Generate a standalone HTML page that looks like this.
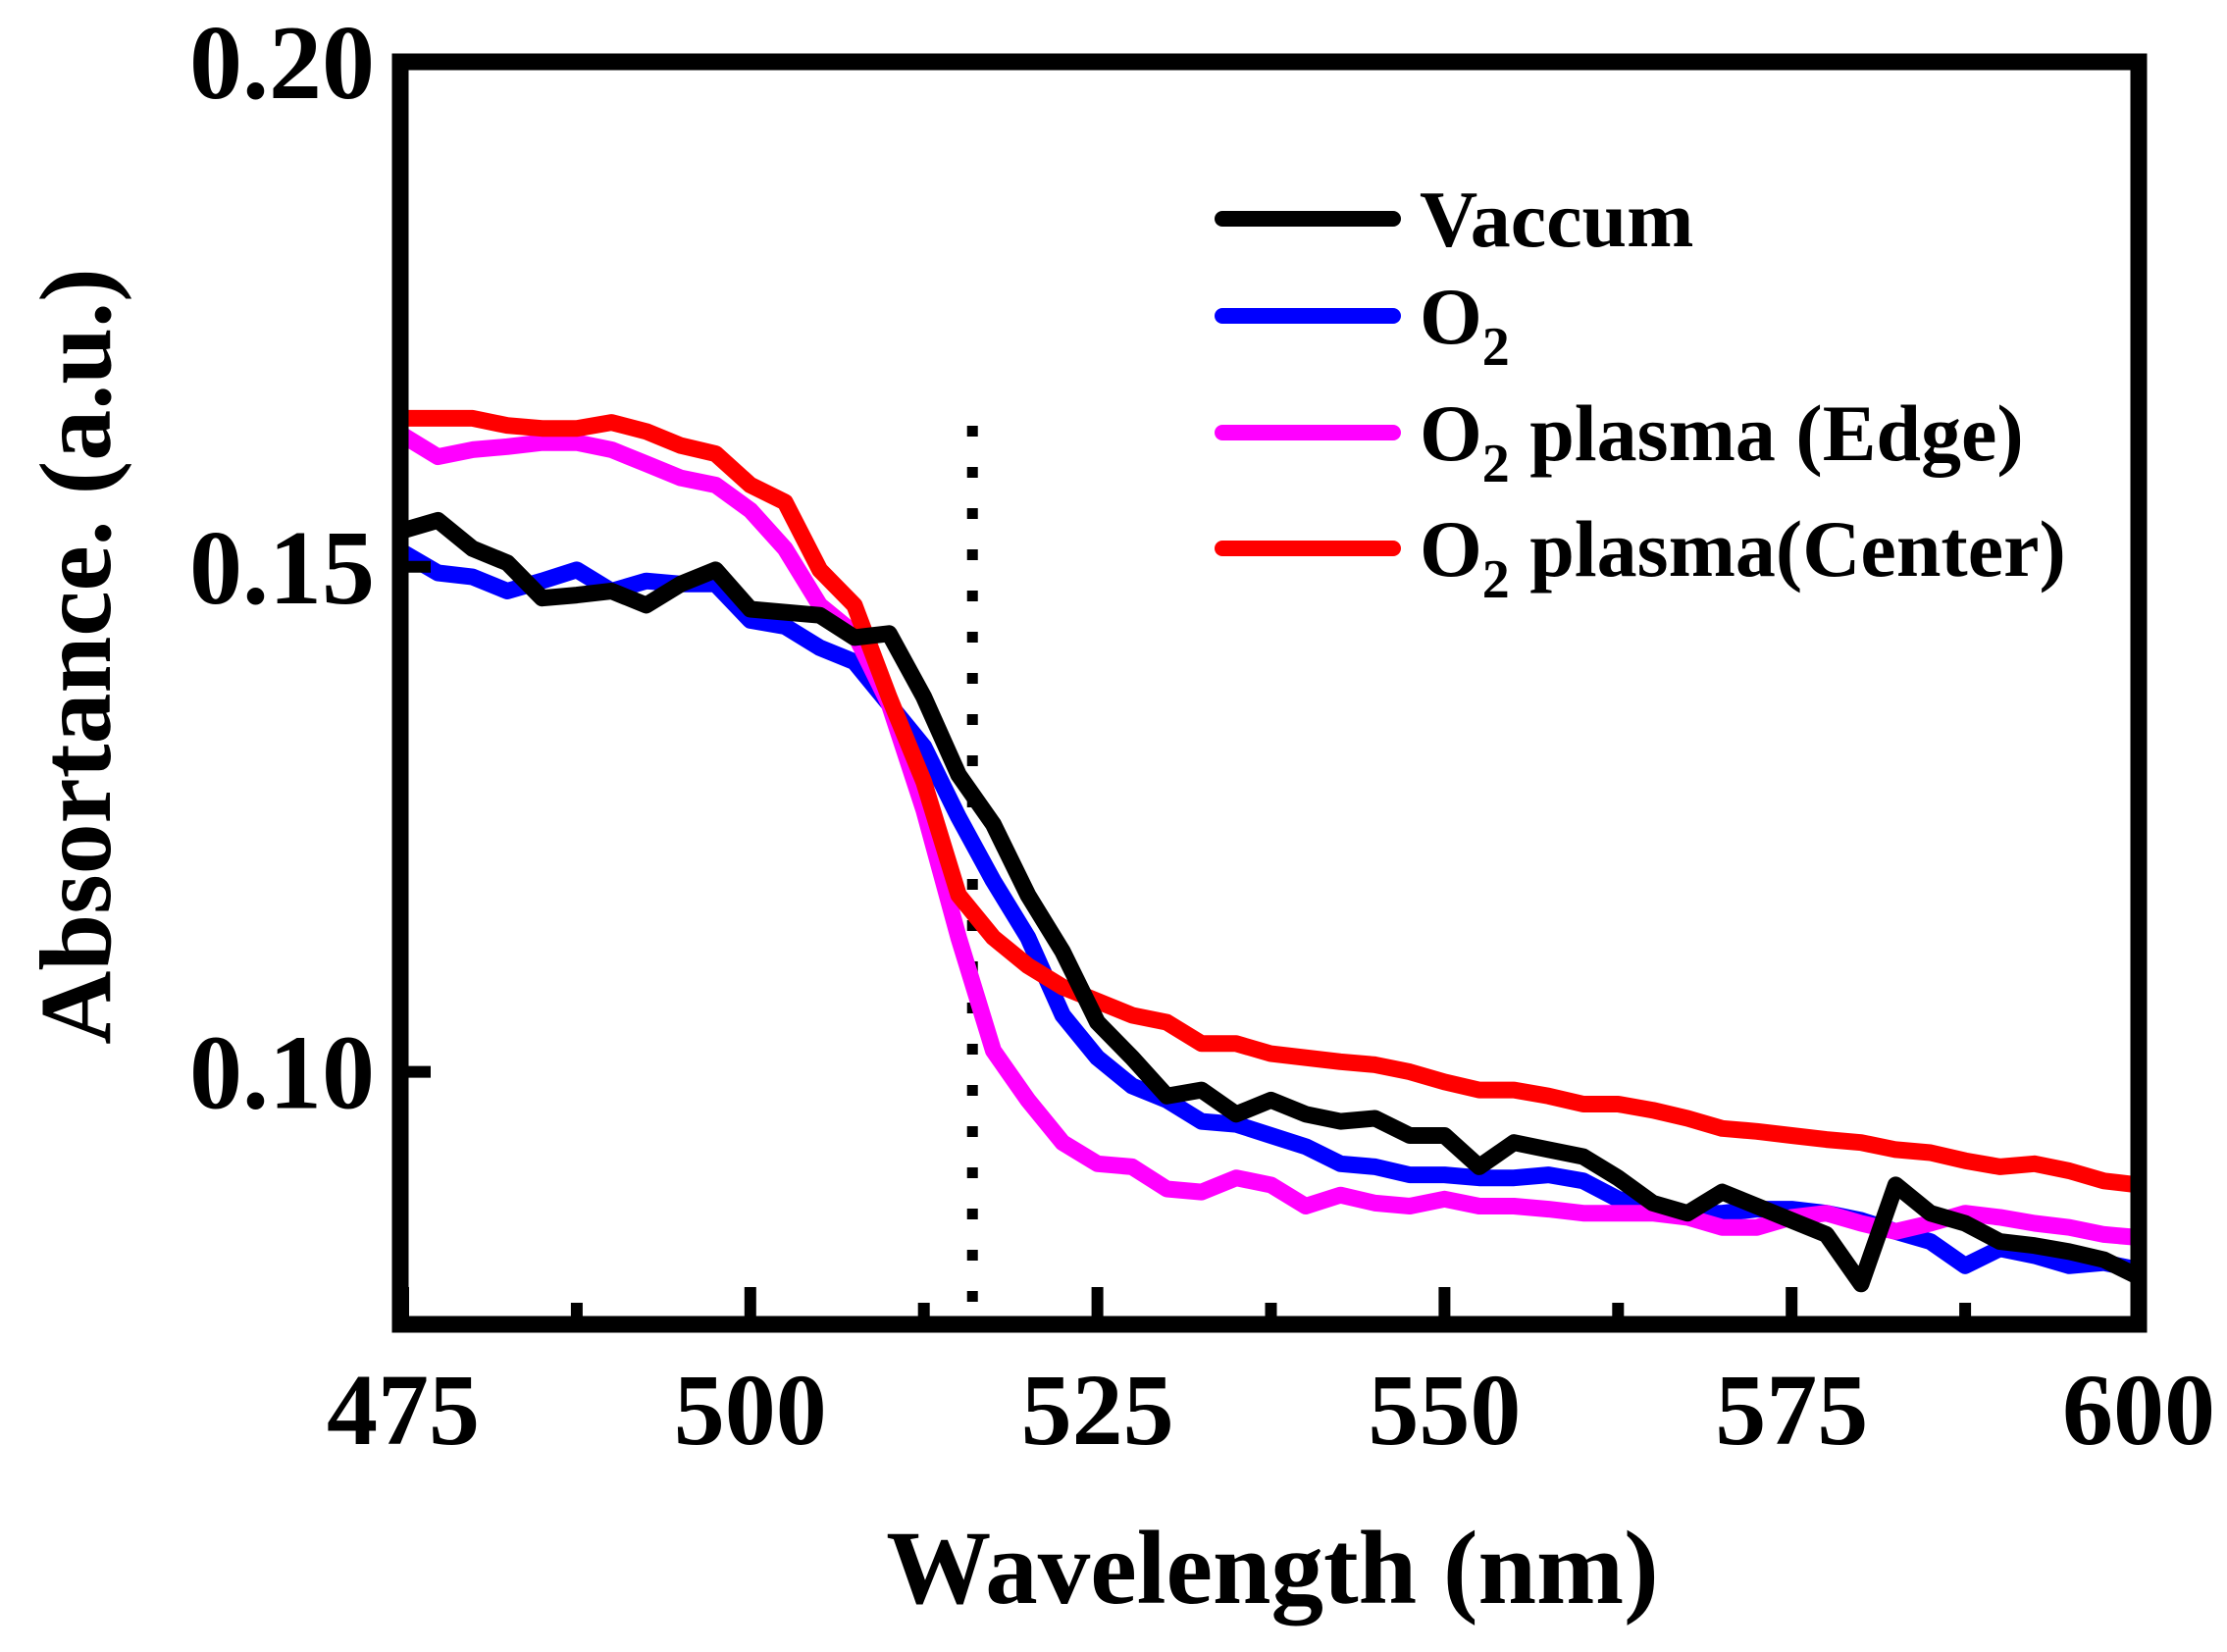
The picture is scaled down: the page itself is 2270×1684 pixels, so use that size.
<!DOCTYPE html>
<html><head><meta charset="utf-8"><style>
html,body{margin:0;padding:0;background:#fff;}
svg{display:block;font-family:"Liberation Serif",serif;font-weight:bold;}
</style></head><body>
<svg id="chart" width="2270" height="1684" viewBox="0 0 2270 1684" xmlns="http://www.w3.org/2000/svg">
<defs><clipPath id="plotclip"><rect x="411" y="63" width="1772" height="1287"/></clipPath></defs>
<g id="series" clip-path="url(#plotclip)"></g>
<g id="axes"></g>
<g id="legend"></g>
<text transform="translate(112,669) rotate(-90)" text-anchor="middle" font-size="104">Absortance. (a.u.)</text>
<text x="1297" y="1634" text-anchor="middle" font-size="107">Wavelength (nm)</text>
</svg>
<script>
const wavelengths = [475,477.5,480,482.5,485,487.5,490,492.5,495,497.5,500,502.5,505,507.5,510,512.5,515,517.5,520,522.5,525,527.5,530,532.5,535,537.5,540,542.5,545,547.5,550,552.5,555,557.5,560,562.5,565,567.5,570,572.5,575,577.5,580,582.5,585,587.5,590,592.5,595,597.5,600];
const vaccum = [.1536,.1546,.1518,.1504,.1469,.1472,.1476,.1462,.1483,.1497,.1458,.1455,.1452,.143,.1434,.1371,.1294,.1245,.1175,.1119,.1049,.1014,.0976,.0982,.0958,.0972,.0958,.0951,.0954,.0937,.0937,.0906,.0930,.0923,.0916,.0895,.087,.086,.0881,.0867,.0853,.0839,.079,.0888,.086,.085,.0832,.0828,.0822,.0814,.0797];
const o2 = [.1514,.1494,.149,.1476,.1486,.1497,.1476,.1486,.1483,.1483,.1447,.1441,.142,.1406,.1364,.1322,.1252,.1189,.1133,.1056,.1014,.0986,.0972,.0951,.0948,.0937,.0926,.0909,.0906,.0898,.0898,.0895,.0895,.0898,.0892,.0874,.0864,.086,.086,.0864,.0864,.086,.0853,.0842,.0832,.0808,.0825,.0818,.0808,.0811,.0804];
const o2Edge = [.163,.1609,.1616,.1619,.1623,.1623,.1616,.1602,.1588,.1581,.1556,.1518,.1462,.1434,.1364,.1259,.1133,.1021,.0972,.093,.0909,.0906,.0884,.0881,.0895,.0888,.0867,.0878,.087,.0867,.0874,.0867,.0867,.0864,.086,.086,.086,.0856,.0846,.0846,.0856,.086,.085,.0842,.085,.086,.0856,.085,.0846,.0839,.0836];
const o2Center = [.1647,.1647,.1647,.164,.1637,.1637,.1643,.1634,.162,.1612,.1581,.1564,.1497,.1462,.1371,.1287,.1175,.1133,.1105,.1084,.107,.1056,.1049,.1028,.1028,.1018,.1014,.101,.1007,.1,.099,.0982,.0982,.0976,.0968,.0968,.0962,.0954,.0944,.0941,.0937,.0933,.093,.0923,.092,.0912,.0906,.0909,.0902,.0892,.0888];
const xTicks = [475,500,525,550,575,600];
const xMinorTicks = [487.5,512.5,537.5,562.5,587.5];
const yTicks = [0.10,0.15,0.20];
const yTickLabels = ["0.10","0.15","0.20"];
const markerLine = [516];
const legendLabels = ["Vaccum","O2","O2 plasma (Edge)","O2 plasma(Center)"];

const NS="http://www.w3.org/2000/svg";
const X0=411,X1=2180,Y0=63,Y1=1350,XMIN=475,XMAX=600,YMIN=0.075,YMAX=0.20;
function sx(w){return X0+(w-XMIN)/(XMAX-XMIN)*(X1-X0);}
function sy(v){return Y0+(YMAX-v)/(YMAX-YMIN)*(Y1-Y0);}
function mk(tag,attrs,parent){const e=document.createElementNS(NS,tag);for(const k in attrs)e.setAttribute(k,attrs[k]);parent.appendChild(e);return e;}
const gS=document.getElementById('series'),gA=document.getElementById('axes'),gL=document.getElementById('legend');

markerLine.forEach(w=>{
  const l=mk('line',{x1:sx(w),x2:sx(w),y1:434,y2:1330,stroke:'#000','stroke-width':11,'stroke-dasharray':'11 31'},gS);
  
  
});

const series=[[vaccum,'#000','vaccum-line'],[o2,'#0000ff','o2-line'],[o2Edge,'#ff00ff','o2-plasma-edge-line'],[o2Center,'#ff0000','o2-plasma-center-line']];
const order=[1,2,3,0];
order.forEach(i=>{
  const [vals,col,name]=series[i];
  const d=vals.map((v,j)=>(j?'L':'M')+sx(wavelengths[j]).toFixed(1)+' '+sy(v).toFixed(1)).join(' ');
  const p=mk('path',{d:d,fill:'none',stroke:col,'stroke-width':17,'stroke-linejoin':'round','stroke-linecap':'round'},gS);
  
  
});

const fr=mk('rect',{x:X0-3,y:Y0,width:X1-X0+3,height:Y1-Y0,fill:'none',stroke:'#000','stroke-width':17},gA);



xTicks.forEach(w=>{
  const t=mk('line',{x1:sx(w),x2:sx(w),y1:Y1,y2:Y1-38,stroke:'#000','stroke-width':12},gA);
  
  
  const lb=mk('text',{x:sx(w),y:1472,'text-anchor':'middle','font-size':104},gA);
  lb.textContent=String(w);
  
  
});
xMinorTicks.forEach(w=>{
  const t=mk('line',{x1:sx(w),x2:sx(w),y1:Y1,y2:Y1-22,stroke:'#000','stroke-width':12},gA);
  
  
});
yTicks.forEach((v,i)=>{
  const t=mk('line',{x1:X0,x2:X0+28,y1:sy(v),y2:sy(v),stroke:'#000','stroke-width':12},gA);
  
  
  const lb=mk('text',{x:382,y:sy(v)+37,'text-anchor':'end','font-size':108},gA);
  lb.textContent=yTickLabels[i];
  
  
});

const legY=[223,322,441,559];
const legCols=['#000','#0000ff','#ff00ff','#ff0000'];
legendLabels.forEach((lab,i)=>{
  const y=legY[i];
  const l=mk('line',{x1:1246,x2:1420,y1:y,y2:y,stroke:legCols[i],'stroke-width':16,'stroke-linecap':'round'},gL);
  
  
  const t=mk('text',{x:1447,y:y+28,'font-size':82},gL);
  
  
  if(lab.startsWith('O2')){
    const a=document.createElementNS(NS,'tspan');a.textContent='O';t.appendChild(a);
    const b=document.createElementNS(NS,'tspan');b.textContent='2';b.setAttribute('font-size','56');b.setAttribute('dy','22');t.appendChild(b);
    const rest=lab.slice(2);
    if(rest){const c=document.createElementNS(NS,'tspan');c.textContent=rest.replace(/^ /,'\u00a0');c.setAttribute('dy','-22');t.appendChild(c);}
  } else t.textContent=lab;
});
</script>
</body></html>
